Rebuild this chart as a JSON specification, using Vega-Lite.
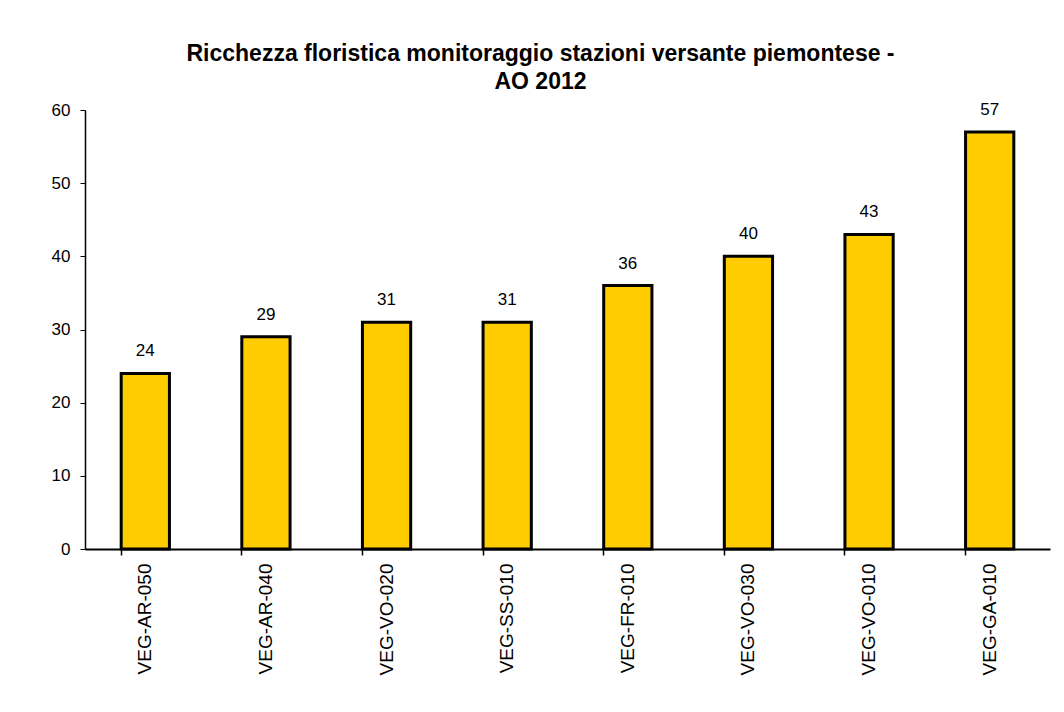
{
  "$schema": "https://vega.github.io/schema/vega-lite/v6.json",
  "autosize": "none",
  "width": 965,
  "height": 439,
  "padding": {"left": 85, "top": 110, "right": 14, "bottom": 163},
  "background": "white",
  "config": {"view": {"stroke": null}, "font": "Liberation Sans"},
  "title": {
    "text": ["Ricchezza floristica monitoraggio  stazioni versante piemontese -", "AO 2012"],
    "font": "Liberation Sans",
    "fontSize": 23,
    "fontWeight": "bold",
    "color": "black",
    "anchor": "middle",
    "frame": "group",
    "dx": -27,
    "offset": 7,
    "lineHeight": 28
  },
  "data": {
    "values": [
      {"stazione": "VEG-AR-050", "specie": 24},
      {"stazione": "VEG-AR-040", "specie": 29},
      {"stazione": "VEG-VO-020", "specie": 31},
      {"stazione": "VEG-SS-010", "specie": 31},
      {"stazione": "VEG-FR-010", "specie": 36},
      {"stazione": "VEG-VO-030", "specie": 40},
      {"stazione": "VEG-VO-010", "specie": 43},
      {"stazione": "VEG-GA-010", "specie": 57}
    ]
  },
  "encoding": {
    "x": {
      "field": "stazione",
      "type": "nominal",
      "sort": null,
      "scale": {"paddingInner": 0.6, "paddingOuter": 0.3},
      "axis": {
        "title": null,
        "labelAngle": 270,
        "labelAlign": "right",
        "labelBaseline": "middle",
        "labelFontSize": 19,
        "labelColor": "black",
        "labelPadding": 8,
        "tickSize": 6,
        "tickColor": "black",
        "domainColor": "black",
        "domainWidth": 2,
        "tickWidth": 1.5,
        "bandPosition": 0,
        "ticks": true
      }
    },
    "y": {
      "field": "specie",
      "type": "quantitative",
      "scale": {"domain": [0, 60]},
      "axis": {
        "title": null,
        "values": [0, 10, 20, 30, 40, 50, 60],
        "grid": false,
        "labelFontSize": 17,
        "labelColor": "black",
        "labelPadding": 10,
        "tickSize": 5,
        "tickColor": "black",
        "domainColor": "black",
        "domainWidth": 1.5
      }
    }
  },
  "layer": [
    {
      "mark": {"type": "bar", "fill": "#FFCC00", "stroke": "black", "strokeWidth": 3}
    },
    {
      "mark": {"type": "text", "baseline": "bottom", "dy": -13, "fontSize": 17, "color": "black"},
      "encoding": {"text": {"field": "specie", "type": "quantitative"}}
    }
  ]
}
